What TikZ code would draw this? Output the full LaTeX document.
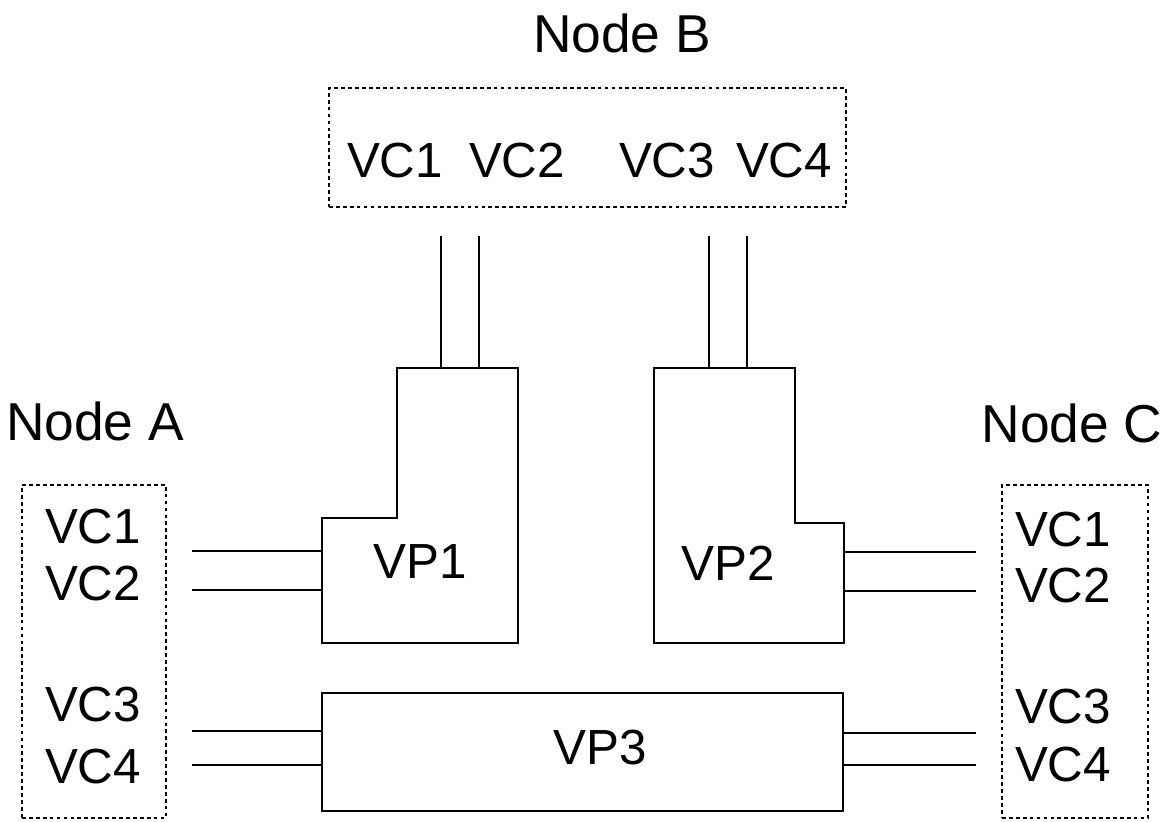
\documentclass[tikz,border=0pt]{standalone}
\usepackage{fontspec}
\setmainfont{Liberation Sans}
\usetikzlibrary{calc}

\begin{document}
\begin{tikzpicture}[
  x=0.75pt, y=-0.75pt,
  vclabel/.style={font=\fontsize{37}{40}\selectfont, inner sep=0pt},
  nodelabel/.style={font=\fontsize{40}{44}\selectfont, inner sep=0pt},
  nodebox/.style={draw, line width=1.9pt, dash pattern=on 2.8pt off 2.4pt, inner sep=0pt},
  vpbox/.style={draw, line width=1.9pt, line join=miter},
  vcline/.style={line width=1.8pt},
]
\useasboundingbox (0,0) rectangle (1166,821);

% node labels
\node[nodelabel] (labA) at (95,421) {Node A};
\node[nodelabel] (labB) at (622,33) {Node B};
\node[nodelabel] (labC) at (1072,423) {Node C};

% dashed end-node boxes
\node[nodebox, minimum width={517*0.75pt}, minimum height={119*0.75pt}] (nodeB) at (587.5,147.5) {};
\node[nodebox, minimum width={144*0.75pt}, minimum height={333*0.75pt}] (nodeA) at (94,651.5) {};
\node[nodebox, minimum width={146*0.75pt}, minimum height={333*0.75pt}] (nodeC) at (1075,651.5) {};

\node[vclabel] (b1) at (395,161) {VC1};
\node[vclabel] (b2) at (517,161) {VC2};
\node[vclabel] (b3) at (667,161) {VC3};
\node[vclabel] (b4) at (784,161) {VC4};

\node[vclabel] (a1) at (93,527) {VC1};
\node[vclabel] (a2) at (93,584) {VC2};
\node[vclabel] (a3) at (93,705) {VC3};
\node[vclabel] (a4) at (93,767) {VC4};

\node[vclabel] (c1) at (1063,530) {VC1};
\node[vclabel] (c2) at (1063,586) {VC2};
\node[vclabel] (c3) at (1063,707) {VC3};
\node[vclabel] (c4) at (1063,765) {VC4};

% virtual paths
\coordinate (vp1nw) at (397,368);
\coordinate (vp1se) at (518,643);
\coordinate (vp1sw) at (322,643);
\draw[vpbox] (vp1nw) -- (518,368) -- (vp1se) -- (vp1sw) -- (322,518) -- (397,518) -- cycle;
\node[vclabel] (vp1) at (420,562) {VP1};

\coordinate (vp2nw) at (654,368);
\coordinate (vp2se) at (844,643);
\draw[vpbox] (vp2nw) -- (795,368) -- (795,523) -- (844,523) -- (vp2se) -- (654,643) -- cycle;
\node[vclabel] (vp2) at (728,563) {VP2};

\node[vpbox, minimum width={521*0.75pt}, minimum height={118*0.75pt}] (vp3box) at (582.5,752) {};
\node[vclabel] (vp3) at (600,748) {VP3};

% channel ends
\coordinate (ta1) at (441,236);
\coordinate (ta2) at (479,236);
\coordinate (ta3) at (709,236);
\coordinate (ta4) at (747,236);
\coordinate (la1) at (192,551);
\coordinate (la2) at (192,590);
\coordinate (la3) at (192,731);
\coordinate (la4) at (192,765);
\coordinate (rc1) at (976,552);
\coordinate (rc2) at (976,591);
\coordinate (rc3) at (976,733);
\coordinate (rc4) at (976,765);

\draw[vcline] (ta1) -- (ta1 |- vp1nw);
\draw[vcline] (ta2) -- (ta2 |- vp1nw);
\draw[vcline] (ta3) -- (ta3 |- vp2nw);
\draw[vcline] (ta4) -- (ta4 |- vp2nw);
\draw[vcline] (la1) -- (la1 -| vp1sw);
\draw[vcline] (la2) -- (la2 -| vp1sw);
\draw[vcline] (la3) -- (la3 -| vp3box.west);
\draw[vcline] (la4) -- (la4 -| vp3box.west);
\draw[vcline] (rc1) -- (rc1 -| vp2se);
\draw[vcline] (rc2) -- (rc2 -| vp2se);
\draw[vcline] (rc3) -- (rc3 -| vp3box.east);
\draw[vcline] (rc4) -- (rc4 -| vp3box.east);

\end{tikzpicture}
\end{document}
